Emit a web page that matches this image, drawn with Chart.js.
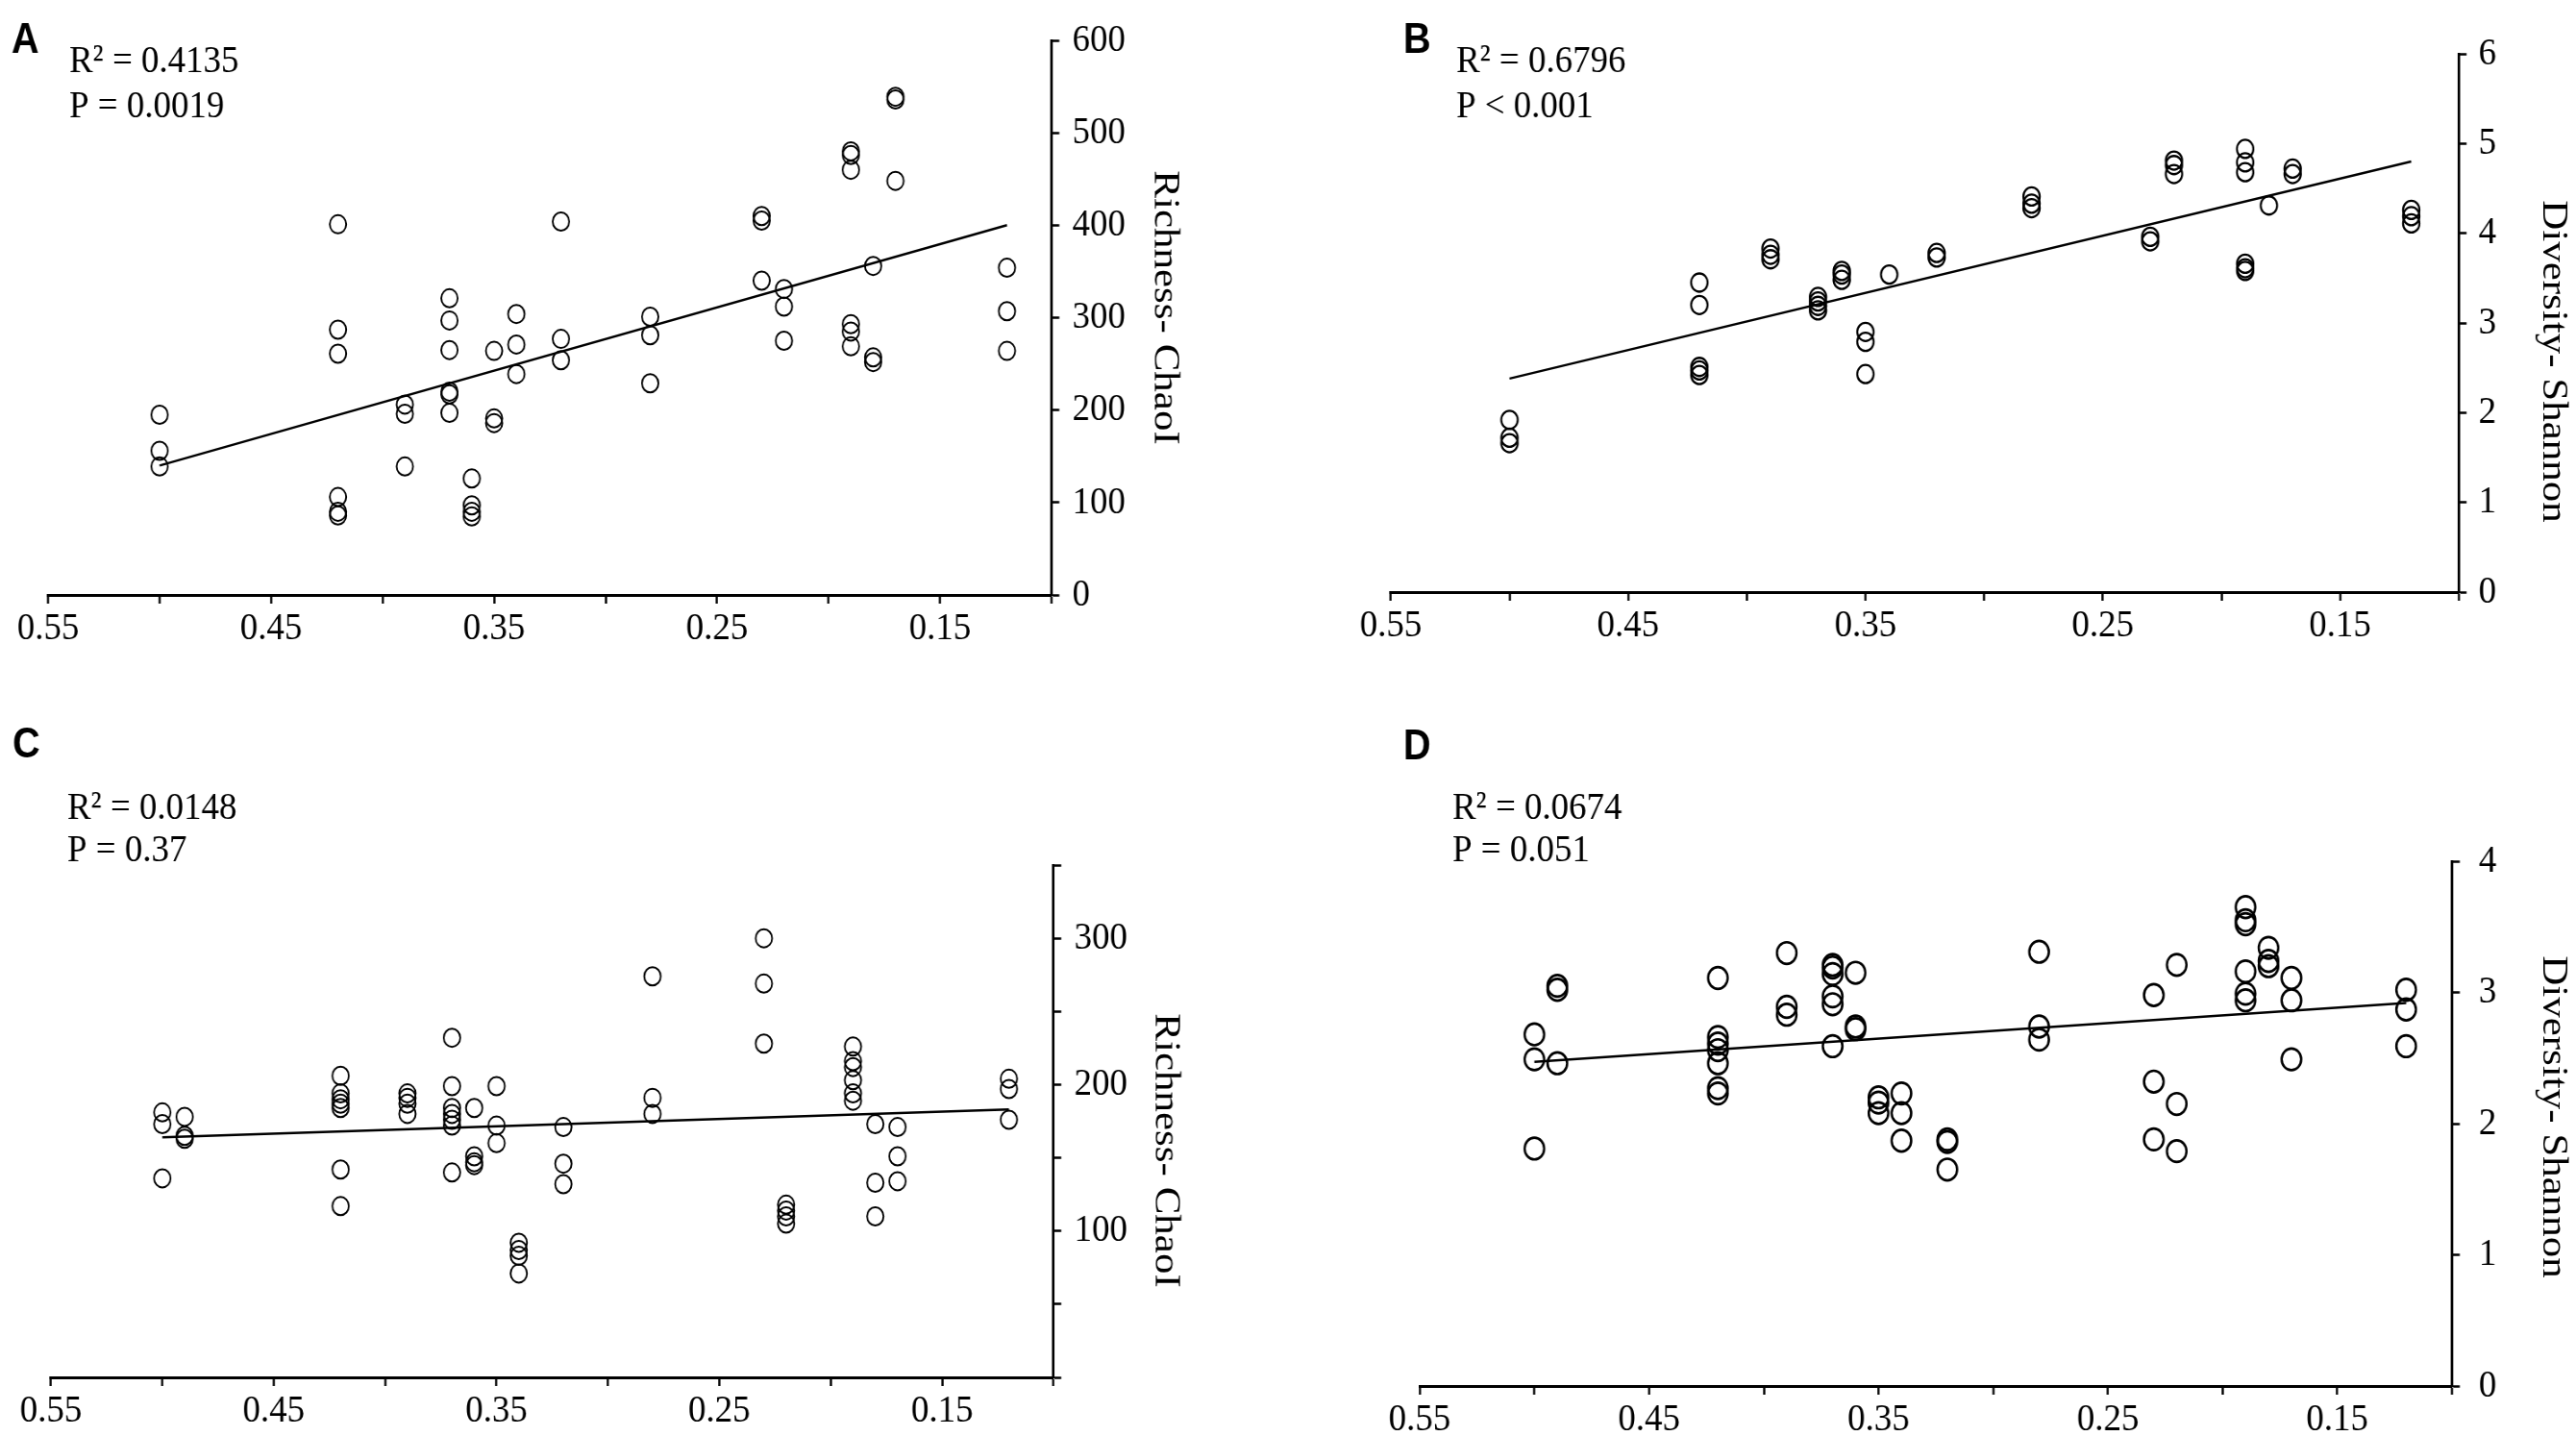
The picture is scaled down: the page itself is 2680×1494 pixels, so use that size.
<!DOCTYPE html>
<html>
<head>
<meta charset="utf-8">
<script src="https://cdn.jsdelivr.net/npm/chart.js@4.4.1/dist/chart.umd.min.js"></script>
<style>
  body { margin: 0; background: #fff; width: 2680px; height: 1494px; overflow: hidden; position: relative; }
  .panel { position: absolute; transform: scaleX(0.9); transform-origin: 0 0; }
</style>
</head>
<body>
<div class="panel" style="left:0px;top:0px;width:1489px;height:740px"><canvas id="chartA"></canvas></div>
<div class="panel" style="left:1340px;top:0px;width:1489px;height:740px"><canvas id="chartB"></canvas></div>
<div class="panel" style="left:0px;top:740px;width:1489px;height:754px"><canvas id="chartC"></canvas></div>
<div class="panel" style="left:1340px;top:740px;width:1489px;height:754px"><canvas id="chartD"></canvas></div>
<script>
// values (x is reversed: 0.55 on the left)
const aX = [0.50,0.50,0.50, 0.42,0.42,0.42,0.42,0.42,0.42, 0.39,0.39,0.39, 0.37,0.37,0.37,0.37,0.37,0.37,
  0.36,0.36,0.36,0.36, 0.35,0.35,0.35, 0.34,0.34,0.34, 0.32,0.32,0.32, 0.28,0.28,0.28, 0.23,0.23,0.23,
  0.22,0.22,0.22, 0.19,0.19,0.19,0.19,0.19,0.19, 0.18,0.18,0.18, 0.17,0.17,0.17, 0.12,0.12,0.12];
const aY = [195,156,139, 401,287,261,106,90,86, 206,196,139, 321,297,265,220,217,197,
  126,97,90,85, 264,191,186, 304,271,239, 404,277,254, 301,281,229, 410,405,340,
  331,312,275, 480,476,460,293,285,269, 356,257,252, 539,536,448, 354,307,264];

const bX = [0.50,0.50,0.50, 0.42,0.42,0.42,0.42,0.42, 0.39,0.39,0.39, 0.37,0.37,0.37,0.37,
  0.36,0.36,0.36, 0.35,0.35,0.35, 0.34, 0.32,0.32, 0.28,0.28,0.28, 0.23,0.23,
  0.22,0.22,0.22, 0.19,0.19,0.19,0.19,0.19,0.19, 0.18, 0.17,0.17, 0.12,0.12,0.12];
const bY = [1.92,1.72,1.66, 3.45,3.20,2.51,2.47,2.42, 3.83,3.76,3.71, 3.29,3.24,3.19,3.14,
  3.58,3.54,3.48, 2.90,2.79,2.43, 3.54, 3.78,3.73, 4.41,4.33,4.28, 3.96,3.91,
  4.81,4.76,4.66, 4.94,4.79,4.68,3.66,3.61,3.58, 4.31, 4.72,4.66, 4.26,4.19,4.11];

const cX = [0.50,0.50,0.50, 0.49,0.49,0.49, 0.42,0.42,0.42,0.42,0.42,0.42,0.42, 0.39,0.39,0.39,0.39,
  0.37,0.37,0.37,0.37,0.37,0.37,0.37, 0.36,0.36,0.36,0.36, 0.35,0.35,0.35, 0.34,0.34,0.34,0.34,
  0.32,0.32,0.32, 0.28,0.28,0.28, 0.23,0.23,0.23, 0.22,0.22,0.22,0.22,
  0.19,0.19,0.19,0.19,0.19,0.19, 0.18,0.18,0.18, 0.17,0.17,0.17, 0.12,0.12,0.12];
const cY = [181,173,136, 178,165,163, 206,194,190,187,184,142,117, 194,191,187,180,
  232,199,184,180,176,172,140, 184,151,147,145, 199,172,160, 92,87,83,71,
  171,146,132, 274,191,180, 300,269,228, 118,114,110,105,
  226,216,212,203,194,189, 173,133,110, 171,151,134, 204,197,176];

const dX = [0.50,0.50,0.50, 0.49,0.49,0.49, 0.42,0.42,0.42,0.42,0.42,0.42,0.42, 0.39,0.39,0.39,
  0.37,0.37,0.37,0.37,0.37,0.37, 0.36,0.36,0.36, 0.35,0.35,0.35, 0.34,0.34,0.34, 0.32,0.32,0.32,
  0.28,0.28,0.28, 0.23,0.23,0.23, 0.22,0.22,0.22, 0.19,0.19,0.19,0.19,0.19,0.19,
  0.18,0.18,0.18, 0.17,0.17,0.17, 0.12,0.12,0.12];
const dY = [2.68,2.49,1.81, 3.05,3.02,2.46, 3.11,2.66,2.61,2.56,2.46,2.27,2.23, 3.30,2.89,2.83,
  3.21,3.19,3.14,2.97,2.91,2.59, 3.15,2.74,2.72, 2.20,2.16,2.08, 2.23,2.08,1.87, 1.88,1.86,1.65,
  3.31,2.74,2.64, 2.98,2.32,1.88, 3.21,2.15,1.79, 3.65,3.55,3.52,3.16,2.99,2.94,
  3.34,3.24,3.20, 3.11,2.94,2.49, 3.02,2.87,2.59];

// fitted line end points
const fitX = [0.50, 0.12];
const fitA = [140, 400];
const fitB = [2.38, 4.80];
const fitC = [164, 183];
const fitD = [2.47, 2.92];

const xLabelTicks = [0.55, 0.45, 0.35, 0.25, 0.15];
const cLabelTicks = [100, 200, 300];

const SQ = 0.9;   // figure is squeezed horizontally
const YW = 120;   // y axis box width
const XH = 50;    // x axis box height

const panelText = {
  id: 'panelText',
  afterDraw(chart, args, o) {
    const ctx = chart.ctx;
    ctx.save();
    ctx.fillStyle = '#000';
    ctx.textAlign = 'left';
    ctx.textBaseline = 'alphabetic';
    ctx.font = 'bold 44px "Liberation Sans"';
    ctx.fillText(o.letter, o.letterAt[0] / SQ, o.letterAt[1]);
    ctx.font = '41px "Liberation Serif"';
    o.stats.forEach((s, i) => ctx.fillText(s, o.statsAt[0] / SQ, o.statsAt[1] + i * o.gap));
    ctx.translate(o.titleAt[0] / SQ, o.titleAt[1]);
    ctx.rotate(Math.PI / 2);
    ctx.textAlign = 'center';
    ctx.textBaseline = 'middle';
    ctx.font = '43px "Liberation Serif"';
    ctx.fillText(o.title, 0, 0);
    ctx.restore();
  }
};

function makePanel(id, p) {
  const W = 1489;
  const axisLine = { display: true, color: '#000', width: 3 };
  const tickMarks = { display: true, drawOnChartArea: false, drawTicks: true, tickLength: 9,
    tickWidth: 2.5, tickColor: '#000', color: '#000' };
  const tickFont = { family: '"Liberation Serif"', size: 41 };

  new Chart(document.getElementById(id), {
    type: 'scatter',
    data: {
      datasets: [
        {
          data: p.x.map((v, i) => ({ x: v, y: p.y[i] })),
          pointRadius: p.r,
          pointBorderWidth: p.bw,
          pointBorderColor: '#000',
          pointBackgroundColor: 'rgba(0,0,0,0)',
          order: 2
        },
        {
          type: 'line',
          data: fitX.map((v, i) => ({ x: v, y: p.fit[i] })),
          borderColor: '#000',
          borderWidth: 2.5,
          pointRadius: 0,
          fill: false,
          order: 1
        }
      ]
    },
    options: {
      responsive: true,
      maintainAspectRatio: false,
      animation: false,
      events: [],
      layout: {
        padding: {
          left: p.area[0] / SQ,
          right: W - p.area[1] / SQ - YW,
          top: p.area[2],
          bottom: p.H - p.area[3] - XH
        }
      },
      plugins: {
        legend: { display: false },
        tooltip: { enabled: false },
        panelText: p.text
      },
      scales: {
        x: {
          type: 'linear',
          reverse: true,
          min: 0.10,
          max: 0.55,
          afterFit: s => { s.height = XH; },
          border: axisLine,
          grid: tickMarks,
          ticks: {
            stepSize: 0.05,
            autoSkip: false,
            maxRotation: 0,
            padding: 2,
            color: '#000',
            font: tickFont,
            callback: v => xLabelTicks.some(t => Math.abs(t - v) < 1e-6) ? v.toFixed(2) : ''
          }
        },
        y: {
          position: 'right',
          min: p.ymin,
          max: p.ymax,
          afterFit: s => { s.width = YW; },
          border: axisLine,
          grid: tickMarks,
          ticks: {
            stepSize: p.step,
            autoSkip: false,
            padding: p.pad,
            color: '#000',
            font: tickFont,
            callback: p.yLabel
          }
        }
      }
    },
    plugins: [panelText]
  });
}

makePanel('chartA', {
  x: aX, y: aY, fit: fitA, r: 9.5, bw: 2, H: 740, pad: 15,
  area: [50, 1094, 42, 619], ymin: 0, ymax: 600, step: 100, yLabel: v => v,
  text: { letter: 'A', letterAt: [12, 55], stats: ['R\u00b2 = 0.4135', 'P = 0.0019'], statsAt: [72, 75], gap: 47,
    title: 'Richness- ChaoI', titleAt: [1212, 320] }
});

makePanel('chartB', {
  x: bX, y: bY, fit: fitB, r: 9.5, bw: 2.3, H: 740, pad: 14,
  area: [107, 1218, 56, 616], ymin: 0, ymax: 6, step: 1, yLabel: v => v,
  text: { letter: 'B', letterAt: [120, 55], stats: ['R\u00b2 = 0.6796', 'P < 0.001'], statsAt: [175, 75], gap: 47,
    title: 'Diversity- Shannon', titleAt: [1316, 376] }
});

makePanel('chartC', {
  x: cX, y: cY, fit: fitC, r: 9.5, bw: 2, H: 754, pad: 15,
  area: [53, 1096, 160, 693], ymin: 0, ymax: 350, step: 50,
  yLabel: v => cLabelTicks.includes(v) ? v : '',
  text: { letter: 'C', letterAt: [13, 48], stats: ['R\u00b2 = 0.0148', 'P = 0.37'], statsAt: [70, 112], gap: 44,
    title: 'Richness- ChaoI', titleAt: [1213, 457] }
});

makePanel('chartD', {
  x: dX, y: dY, fit: fitD, r: 11.3, bw: 2.7, H: 754, pad: 22,
  area: [137, 1211, 156, 702], ymin: 0, ymax: 4, step: 1, yLabel: v => v,
  text: { letter: 'D', letterAt: [120, 50], stats: ['R\u00b2 = 0.0674', 'P = 0.051'], statsAt: [171, 112], gap: 44,
    title: 'Diversity- Shannon', titleAt: [1316, 422] }
});
</script>
</body>
</html>
